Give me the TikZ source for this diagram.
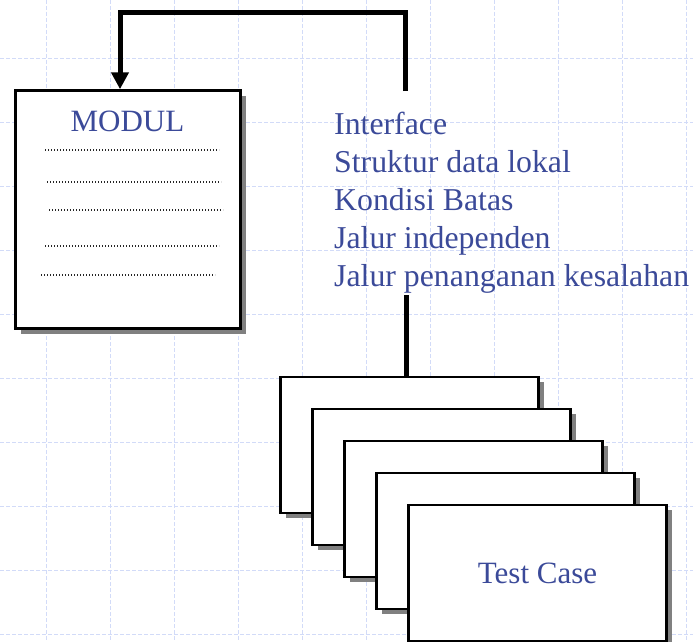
\documentclass[tikz,border=0pt]{standalone}
\usepackage{fontspec}
\setmainfont{Liberation Serif}
\usepackage{xcolor}
\usepackage{tikz}
\usetikzlibrary{arrows.meta,shadows,calc}
\definecolor{textblue}{HTML}{3B4A99}
\definecolor{gridblue}{HTML}{D2DBF8}
\definecolor{shadowgray}{HTML}{808080}
\tikzset{
  modulbox/.style={rectangle,draw=black,fill=white,line width=2.5pt,minimum width=225pt,minimum height=238pt,drop shadow={shadow xshift=5pt,shadow yshift=-5pt,fill=shadowgray,opacity=1}},
  casebox/.style={rectangle,draw=black,fill=white,line width=2.5pt,minimum width=258pt,minimum height=136pt,drop shadow={shadow xshift=5pt,shadow yshift=-5pt,fill=shadowgray,opacity=1}},
  bluetext/.style={inner sep=0pt,text=textblue,font=\fontsize{31}{38}\selectfont},
  itemtext/.style={bluetext,anchor=base west,font=\fontsize{31.8}{38}\selectfont},
  link/.style={line width=5pt,draw=black},
  dotline/.style={line width=1.3pt,dash pattern=on 1.3pt off 1.7pt,draw=black!85},
  gridline/.style={draw=gridblue,line width=0.9pt,dash pattern=on 4pt off 2pt}
}

\begin{document}
\begin{tikzpicture}[x=1pt,y=-1pt]
  \useasboundingbox (0,0) rectangle (693,642);
  \fill[white] (0,0) rectangle (693,642);
  % background grid
  \foreach \gx in {46,110,...,686} \draw[gridline] (\gx,0) -- (\gx,642);
  \foreach \gy in {58,122,...,634} \draw[gridline] (0,\gy) -- (693,\gy);

  % module
  \node[modulbox] (modul) at (128,209.5) {};
  \node[bluetext,anchor=base] (modtitle) at (127.5,131) {MODUL};
  \foreach \yy/\xa/\xb in {150/45/219,182/47/221,210/49/223,246/45/219,275/41/215}
    \draw[dotline] (\xa,\yy) -- (\xb,\yy);

  % test aspects
  \foreach \txt [count=\i from 0] in {Interface,Struktur data lokal,Kondisi Batas,Jalur independen,Jalur penanganan kesalahan}
    \node[itemtext] (item\i) at (334,{134+38*\i}) {\txt};

  % test cases
  \foreach \k in {1,...,4}
    \node[casebox] (case\k) at ({409.5+32*(\k-1)},{445+32*(\k-1)}) {};
  \node[casebox,bluetext] (case5) at (537.5,573) {Test Case};

  \coordinate (modin) at ([xshift=-8pt]modul.north);
  \coordinate (listtop) at (405,91);
  \coordinate (listbot) at (406,295);
  \draw[link,-{Triangle[width=17pt,length=17pt]}] (listtop) |- (modin |- 0,12.5) -- (modin);
  \draw[link] (listbot) -- (listbot |- case1.north);
\end{tikzpicture}
\end{document}
